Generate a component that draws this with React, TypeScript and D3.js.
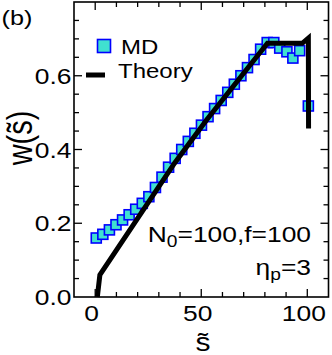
import React, { useEffect, useRef } from 'react';
import * as d3 from 'd3';

// MD simulation points
const mdS = [0.5, 3.6, 6.7, 9.8, 12.9, 16.0, 19.1, 22.2, 25.3, 28.4, 31.5, 34.6, 37.7, 40.8, 43.9, 47.0,
  50.1, 53.2, 56.3, 59.4, 62.5, 65.6, 68.7, 71.8, 74.9, 78.0, 81.1, 84.2, 87.0, 90.4, 93.2, 96.4, 100.5];
const mdW = [0.160, 0.170, 0.182, 0.196, 0.209, 0.223, 0.238, 0.254, 0.272, 0.297, 0.325, 0.352, 0.376,
  0.400, 0.422, 0.444, 0.466, 0.489, 0.511, 0.533, 0.555, 0.577, 0.600, 0.622, 0.644, 0.672, 0.690,
  0.690, 0.675, 0.665, 0.648, 0.668, 0.518];

// theory curve
const theoryS = [1, 2.2, 10, 37.4, 52.5, 81.2, 97.6, 100.5, 100.6];
const theoryW = [0, 0.06, 0.127, 0.363, 0.48, 0.688, 0.688, 0.702, 0.457];

const xTicks = [0, 50, 100];
const xMinor = [10, 20, 30, 40, 60, 70, 80, 90];
const yTicks = [0, 0.2, 0.4, 0.6];
const yMinor = [0.05, 0.1, 0.15, 0.25, 0.3, 0.35, 0.45, 0.5, 0.55, 0.65, 0.7, 0.75];

const SX = 1.2; // glyphs in the reference are a bit wide
const FONT = "'Liberation Sans', Arial, Helvetica, sans-serif";

const App = () => {
  const ref = useRef(null);

  useEffect(() => {
    document.body.style.margin = '0';
    const svg = d3.select(ref.current);
    svg.selectAll('*').remove();

    const width = 332;
    const height = 355;
    const margin = { top: 2, right: 3.5, bottom: 58, left: 74 };

    svg.attr('width', width).attr('height', height);

    const x = d3.scaleLinear().domain([-10, 110]).range([margin.left, width - margin.right]);
    const y = d3.scaleLinear().domain([0, 0.8]).range([height - margin.bottom, margin.top]);

    const x0 = margin.left, x1 = width - margin.right;
    const y0 = height - margin.bottom, y1 = margin.top;

    const text = (px, py, str, size, anchor = 'start', rot = false) => {
      const g = svg.append('g')
        .attr('transform', `translate(${px},${py}) scale(${SX},1)${rot ? ' rotate(-90)' : ''}`);
      return g.append('text')
        .attr('text-anchor', anchor)
        .style('font-family', FONT)
        .style('font-size', `${size}px`)
        .text(str);
    };

    // ticks (inward, on all four sides)
    const ticks = svg.append('g').attr('stroke', 'black').attr('stroke-width', 1.3);
    const xt = [...xTicks.map(v => [v, 8]), ...xMinor.map(v => [v, 5])];
    xt.forEach(([v, len]) => {
      ticks.append('line').attr('x1', x(v)).attr('x2', x(v)).attr('y1', y0).attr('y2', y0 - len);
      ticks.append('line').attr('x1', x(v)).attr('x2', x(v)).attr('y1', y1).attr('y2', y1 + len);
    });
    const yt = [...yTicks.filter(v => v > 0).map(v => [v, 8]), ...yMinor.map(v => [v, 5])];
    yt.forEach(([v, len]) => {
      ticks.append('line').attr('x1', x0).attr('x2', x0 + len).attr('y1', y(v)).attr('y2', y(v));
      ticks.append('line').attr('x1', x1).attr('x2', x1 - len).attr('y1', y(v)).attr('y2', y(v));
    });

    // MD squares
    const sq = 10;
    svg.append('g')
      .selectAll('rect')
      .data(mdS.map((s, i) => [s, mdW[i]]))
      .join('rect')
      .attr('x', d => x(d[0]) - sq / 2)
      .attr('y', d => y(d[1]) - sq / 2)
      .attr('width', sq)
      .attr('height', sq)
      .attr('fill', '#40e0d0')
      .attr('stroke', '#0000ff')
      .attr('stroke-width', 1.6);

    // theory line
    const line = d3.line().x(d => x(d[0])).y(d => y(d[1]));
    svg.append('path')
      .attr('d', line(theoryS.map((s, i) => [s, theoryW[i]])))
      .attr('fill', 'none')
      .attr('stroke', 'black')
      .attr('stroke-width', 5)
      .attr('stroke-linejoin', 'miter')
      .attr('stroke-miterlimit', 10);

    // frame
    svg.append('rect')
      .attr('x', x0).attr('y', y1)
      .attr('width', x1 - x0).attr('height', y0 - y1)
      .attr('fill', 'none').attr('stroke', 'black').attr('stroke-width', 1.6);

    // tick labels
    yTicks.forEach(v => text(71.5, y(v) + 8, d3.format('.1f')(v), 22, 'end'));
    xTicks.forEach(v => text(x(v) - 3.5, 321, String(v), 22, 'middle'));

    // legend
    svg.append('rect')
      .attr('x', 97.5).attr('y', 39.5).attr('width', 13).attr('height', 13)
      .attr('fill', '#40e0d0').attr('stroke', '#0000ff').attr('stroke-width', 1.6);
    text(121, 54, 'MD', 20);
    svg.append('line')
      .attr('x1', 86).attr('x2', 105).attr('y1', 75).attr('y2', 75)
      .attr('stroke', 'black').attr('stroke-width', 5);
    text(118, 78, 'Theory', 20);

    // panel label
    text(1.5, 25, '(b)', 21);

    // annotations
    const n0 = text(311, 242, '', 22, 'end');
    n0.append('tspan').text('N');
    n0.append('tspan').attr('dy', 5).style('font-size', '16px').text('0');
    n0.append('tspan').attr('dy', -5).text('=100,f=100');
    const eta = text(311, 275, '', 22, 'end');
    eta.append('tspan').text('\u03b7');
    eta.append('tspan').attr('dy', 5).style('font-size', '16px').text('p');
    eta.append('tspan').attr('dy', -5).text('=3');

    // axis titles
    text(32, 138, 'w(s\u0303)', 29, 'middle', true);
    text(203, 351, 's\u0303', 25, 'middle');
  }, []);

  return <svg ref={ref} style={{ display: 'block' }}></svg>;
};

export default App;
